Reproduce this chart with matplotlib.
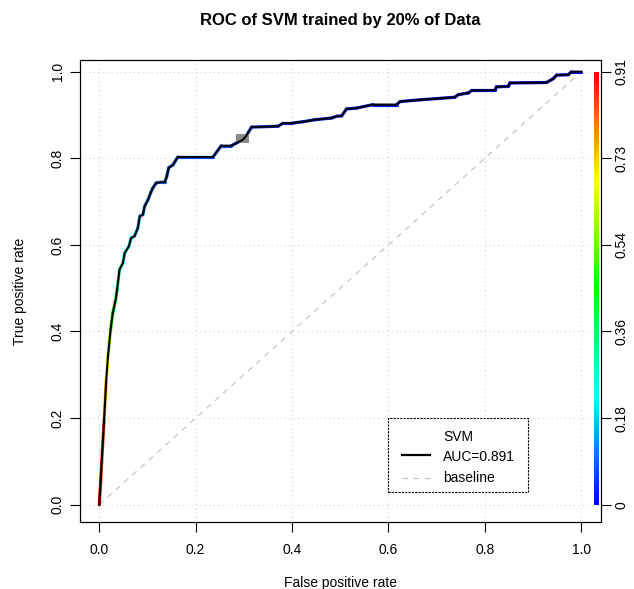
import numpy as np
import matplotlib
matplotlib.use("Agg")
import matplotlib.pyplot as plt
from matplotlib.colors import ListedColormap, hsv_to_rgb
from matplotlib.collections import LineCollection
from matplotlib.patches import Rectangle

plt.rcParams['font.family'] = ['Liberation Sans', 'DejaVu Sans']

# ROC points of the SVM model (false positive rate, true positive rate, cutoff)
fpr = [0, 0.003, 0.010, 0.0145, 0.018, 0.0235, 0.028, 0.034, 0.037, 0.042,
       0.049, 0.0526, 0.0615, 0.066, 0.073, 0.080, 0.084, 0.0906, 0.094, 0.101,
       0.108, 0.111, 0.118, 0.129, 0.136, 0.140, 0.144, 0.153, 0.163, 0.236,
       0.253, 0.274, 0.284, 0.298, 0.305, 0.316, 0.371, 0.381, 0.399, 0.423,
       0.447, 0.482, 0.492, 0.503, 0.513, 0.534, 0.568, 0.617, 0.624, 0.665,
       0.738, 0.745, 0.766, 0.773, 0.821, 0.824, 0.849, 0.852, 0.928, 0.942,
       0.949, 0.973, 0.980, 1.0]
tpr = [0, 0.058, 0.196, 0.289, 0.342, 0.404, 0.443, 0.473, 0.497, 0.543,
       0.558, 0.581, 0.597, 0.616, 0.620, 0.639, 0.666, 0.670, 0.689, 0.704,
       0.724, 0.731, 0.743, 0.745, 0.745, 0.758, 0.778, 0.785, 0.803, 0.803,
       0.829, 0.829, 0.835, 0.843, 0.852, 0.872, 0.874, 0.881, 0.881, 0.8845,
       0.889, 0.893, 0.897, 0.898, 0.914, 0.916, 0.924, 0.924, 0.931, 0.935,
       0.941, 0.947, 0.951, 0.957, 0.957, 0.965, 0.966, 0.974, 0.975, 0.984,
       0.992, 0.993, 1.0, 1.0]
cutoff = [0.908, 0.88, 0.82, 0.72, 0.66, 0.52, 0.46, 0.42, 0.37, 0.30,
          0.27, 0.25, 0.22, 0.20, 0.19, 0.17, 0.15, 0.14, 0.13, 0.12,
          0.11, 0.105, 0.10, 0.095, 0.090, 0.088, 0.085, 0.083, 0.080, 0.070,
          0.066, 0.062, 0.060, 0.058, 0.056, 0.053, 0.048, 0.046, 0.044, 0.042,
          0.040, 0.037, 0.036, 0.035, 0.033, 0.031, 0.028, 0.025, 0.024, 0.021,
          0.017, 0.016, 0.014, 0.013, 0.010, 0.009, 0.007, 0.006, 0.004, 0.003,
          0.002, 0.001, 0.0, 0.0]
auc = 0.891

# spread box of the averaged curve (fpr lo, fpr hi, tpr lo, tpr hi)
spread_box = (0.284, 0.311, 0.836, 0.857)

grid_ticks = [0.0, 0.2, 0.4, 0.6, 0.8, 1.0]

# rainbow from blue (low cutoff) to red (high cutoff)
hues = np.linspace(2 / 3, 0, 256)
rainbow = ListedColormap(hsv_to_rgb(np.column_stack([hues, np.ones(256), np.ones(256)])))
cmin, cmax = min(cutoff), max(cutoff)

fig = plt.figure(figsize=(6.34, 5.89), dpi=100)
ax = fig.add_axes([80 / 634, 1 - 522 / 589, 520.5 / 634, 462 / 589])
ax.set_xlim(-0.04, 1.04)
ax.set_ylim(-0.04, 1.027)

for t in grid_ticks:
    ax.axvline(t, color='lightgray', ls=(0, (1, 3)), lw=0.8, zorder=0)
    ax.axhline(t, color='lightgray', ls=(0, (1, 3)), lw=0.8, zorder=0)

# baseline
ax.plot([0, 1], [0, 1], color='#bebebe', lw=0.8, ls=(0, (5, 5)), zorder=1)

# colorized curve, slightly wider than the black one on top
pts = np.column_stack([fpr, tpr])
segs = np.stack([pts[:-1], pts[1:]], axis=1)
mid = (np.array(cutoff[:-1]) + np.array(cutoff[1:])) / 2
lc = LineCollection(segs, colors=rainbow((mid - cmin) / (cmax - cmin)), lw=2.3,
                    capstyle='round', joinstyle='round', zorder=2)
ax.add_collection(lc)

x0, x1, y0, y1 = spread_box
ax.add_patch(Rectangle((x0, y0), x1 - x0, y1 - y0, color='#8c8c8c', lw=0, zorder=2.5))

ax.plot(fpr, tpr, color='black', lw=1.5, zorder=3)

# color key on the right
grad = np.linspace(0, 1, 256).reshape(-1, 1)
ax.imshow(grad, cmap=rainbow, extent=[1.026, 1.036, 0, 1], origin='lower',
          aspect='auto', zorder=2)

ax.set_xticks(grid_ticks)
ax.set_yticks(grid_ticks)
ax.set_xticklabels([f'{t:.1f}' for t in grid_ticks])
ax.set_yticklabels([f'{t:.1f}' for t in grid_ticks], rotation=90, va='center')
ax.tick_params(direction='out', length=7, width=0.8, labelsize=10, pad=4)
ax.tick_params(axis='x', pad=8)
for s in ax.spines.values():
    s.set_linewidth(0.8)

ax2 = ax.twinx()
ax2.set_ylim(ax.get_ylim())
ax2.set_yticks(grid_ticks)
key_labels = np.linspace(cmin, cmax, len(grid_ticks))
ax2.set_yticklabels([f'{round(v, 2):g}' for v in key_labels], rotation=90, va='center')
ax2.tick_params(direction='out', length=7, width=0.8, labelsize=10, pad=3)

ax.set_xlabel('False positive rate', fontsize=10, labelpad=14)
ax.set_ylabel('True positive rate', fontsize=10, labelpad=17)
ax.set_title('ROC of SVM trained by 20% of Data', fontsize=12, fontweight='bold', pad=25)

# legend
ax.add_patch(Rectangle((0.5917, 0.0649), 0.269, 0.1602, transform=ax.transAxes,
                       fill=True, facecolor='white', edgecolor='black', lw=0.8,
                       ls=(0, (2, 1)), zorder=4))
ax.plot([0.6186, 0.6724], [0.145, 0.145], transform=ax.transAxes, color='black', lw=1.6, zorder=5)
ax.plot([0.6186, 0.6724], [0.0952, 0.0952], transform=ax.transAxes, color='#bebebe',
        lw=0.8, ls=(0, (5, 5)), zorder=5)
ax.text(0.6974, 0.184, 'SVM', transform=ax.transAxes, va='center', fontsize=10, zorder=5)
ax.text(0.6974, 0.1407, f'AUC={auc}', transform=ax.transAxes, va='center', fontsize=10, zorder=5)
ax.text(0.6974, 0.0952, 'baseline', transform=ax.transAxes, va='center', fontsize=10, zorder=5)

fig.savefig('out.png', dpi=100)
